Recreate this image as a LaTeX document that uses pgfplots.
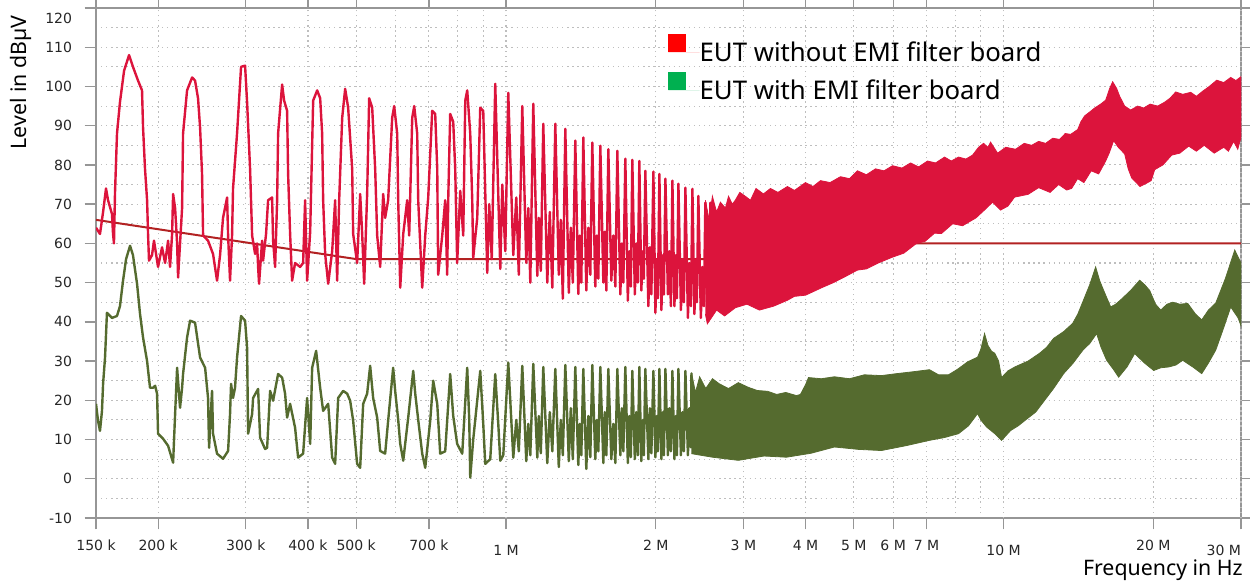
\documentclass[border=0pt]{standalone}
\usepackage{pgfplots}
\pgfplotsset{compat=1.18}
\usepackage{fontspec}
\setmainfont{Noto Sans}
\newfontfamily\tickfont{DejaVu Sans}
\definecolor{trace}{RGB}{220,20,60}
\definecolor{limitc}{RGB}{178,34,34}
\definecolor{filt}{RGB}{85,107,47}
\definecolor{legred}{RGB}{255,0,0}
\definecolor{leggreen}{RGB}{0,176,80}
\definecolor{framec}{RGB}{150,150,150}
\definecolor{gridc}{RGB}{190,190,190}
\begin{document}
\begin{tikzpicture}
\path[use as bounding box] (-72pt,-48.75pt) rectangle (865.5pt,388.5pt);
\begin{axis}[
  at={(0,0)}, anchor=south west,
  scale only axis, width=858.75pt, height=382.5pt,
  xmode=log, xmin=150, xmax=30000, ymin=-10, ymax=120,
  axis line style={framec, line width=1.1pt},
  tick style={framec, line width=1pt},
  tick align=outside, major tick length=8.5pt, minor tick length=0pt,
  xtick={150,200,300,400,500,700,2000,3000,4000,5000,6000,7000,20000},
  xticklabels={150 k,200 k,300 k,400 k,500 k,700 k,2 M,3 M,4 M,5 M,6 M,7 M,20 M},
  extra x ticks={1000,10000,30000},
  extra x tick labels={1 M,10 M,{\makebox[0pt][r]{30 M}}},
  extra x tick style={grid=major, tick label style={yshift=-4pt}},
  minor xtick={600,800,900,8000,9000},
  ytick={-10,0,...,120},
  yticklabels={-10,0,10,20,30,40,50,60,70,80,90,100,110,{\raisebox{-11.3pt}[0pt][0pt]{120}}},
  minor ytick={-5,5,...,115},
  grid=both,
  major grid style={gridc, dash pattern=on 1pt off 2.8pt, line width=0.8pt},
  minor grid style={gridc, dash pattern=on 1pt off 2.8pt, line width=0.8pt},
  tick label style={font=\tickfont\fontsize{10.5}{12}\selectfont, text=black!85},
  xticklabel style={yshift=-4.5pt},
  yticklabel style={xshift=-6pt},
  xlabel={Frequency in Hz},
  xlabel style={font=\fontsize{16}{19}\selectfont, inner sep=0pt, at={(axis description cs:1,0)}, anchor=north east, yshift=-31pt, xshift=1.5pt},
  ylabel={Level in dBµV},
  ylabel style={font=\fontsize{16}{19}\selectfont, inner sep=0pt, at={([xshift=-48pt,yshift=-5.25pt]axis description cs:0,1)}, anchor=south east},
  legend image code/.code={\fill[#1] (0pt,0pt) rectangle (13.5pt,14pt); \path (0pt,0pt) -- (23.5pt,0pt);},
  legend cell align=left,
  legend style={at={(axis description cs:0.4996,0.950)}, anchor=north west, draw=none, fill=none, inner sep=0pt, font=\fontsize{19.3}{22}\selectfont, row sep=6.25pt, nodes={inner sep=0pt}},
]
\addlegendimage{fill=legred, draw=none}
\addlegendentry{EUT without EMI filter board}
\addlegendimage{fill=leggreen, draw=none}
\addlegendentry{EUT with EMI filter board}

% limit line
\addplot[limitc, line width=1.5pt, forget plot] coordinates {(150,66) (500,56) (5000,56) (5000,60) (30000,60)};

% EUT without filter: resolved part
\addplot[trace, line width=1.8pt, line join=round, forget plot] coordinates {
(150,64) (152.8,62.4) (155,68) (157.1,74) (158.6,71) (161.5,67.5) (162.3,62.4) (163,60) (163.8,73) (165.3,88) (167.6,96) (170.8,104) (174.8,108) (178,105) (182.2,101.5) (185.6,99) (186.5,89.5) (188.2,79) (190,71) (190.9,62) (191.7,55.6) (194.4,57) (196.2,60.7) (199.9,54) (203.6,59) (206.5,55) (209.4,60.7) (211.3,54) (213.3,62.4) (214.3,72.6) (216.3,69) (218.3,60) (219.3,51.3) (221.3,60) (223.4,69) (224.4,88) (228.6,99) (234,102.3) (237.2,101.5) (240.5,97) (242.8,89.5) (245,77.7) (246.2,62) (251.9,60.7) (257.8,57.3) (262.6,50.5) (266.3,57) (270,66.5) (275.1,71.7) (276.4,62) (278.9,50.5) (281.5,62) (282.8,74) (288.1,88) (293.5,105) (299,105.3) (301.8,96) (306,79) (308.9,62) (313.2,57.3) (316.1,60) (317.6,54) (319,49.7) (323.5,60.7) (325,55.6) (329.5,62.4) (332.6,71) (338.8,71.7) (340.4,60.7) (343.6,54) (346.8,71) (348.4,88) (354.9,100.5) (358.2,96.4) (363.2,93.8) (364.9,77.7) (368.3,62.4) (371.7,50.5) (376.9,55) (385.8,54) (391.2,55) (394.8,71) (398.5,50.5) (404.1,63) (409.7,96.4) (417.4,99) (423.2,97) (427.1,88) (429.1,71) (433.1,57.3) (439.2,49.7) (447.4,58) (453.6,71) (457.8,50.5) (462.1,71) (468.6,92) (475.1,99.4) (481.7,94.6) (490.8,79) (493,62.4) (502.2,55) (509.3,72.6) (514,62.4) (518.8,49.7) (526,72.6) (530.9,97) (538.4,94.6) (545.9,79) (551,62) (558.7,54) (566.5,72.6) (571.7,66.5) (579.7,71) (590.6,92) (596.1,95) (604.5,88) (607.3,71) (613,48.7) (621.6,62.4) (633.1,71) (639,62) (648,92) (654,95) (663.1,88) (666.2,71) (678.7,48.7) (688.2,62) (697.8,71.7) (710.8,93.8) (720.7,93) (727.5,79) (730.8,52) (744.5,62) (754.9,71) (761.9,52) (765.5,71) (772.6,93) (783.4,91) (790.7,79) (798,55) (809.2,73.4) (820.5,62) (828.2,96.4) (835.8,99) (847.5,88) (855.4,71) (859.3,56.3) (875.4,66.5) (887.7,94.6) (900.1,93.8) (916.9,52.5) (925.4,70) (936.2,56) (951.5,100.7) (973.9,53.5) (983,75) (996.7,58) (1010.6,98.4) (1034.3,57) (1048.7,71.7) (1061,52) (1078.3,95) (1098.4,55) (1108.7,69) (1119,50) (1134.6,95.6) (1155.8,51.7) (1163.8,66.5) (1174.6,53) (1188.3,90.5) (1210.5,50) (1224.7,68) (1239,48.7) (1256.3,90.5) (1276.7,52) (1288.6,66) (1300.7,45.9) (1315.9,89.2) (1337.3,47.4) (1349.7,64) (1362.3,50) (1378.2,86.2) (1397.4,47.1) (1407.1,62) (1417,50) (1430.1,87) (1450.1,48) (1463.6,64) (1477.2,52) (1491,85.7) (1511.8,49) (1522.5,62) (1533.1,51) (1547.4,84.9) (1569.1,50) (1580.1,63) (1591,48) (1605.7,84) (1628.2,50.5) (1643.4,62) (1658.7,49) (1674.1,83.6) (1697.5,47) (1709.3,60) (1721.2,50) (1737.3,81.6) (1757.5,45.4) (1769.6,58) (1782.1,49) (1794.4,81.3) (1815.2,47) (1828,60) (1840.7,50) (1853.5,81) (1870.8,48) (1883.7,58) (1892.5,51) (1905.7,78.5) (1932.8,44) (1946.2,59) (1959.8,47) (1978.2,78.3) (1996.6,42.3) (2010.4,56) (2019.6,46) (2033.7,77.7) (2052.7,43) (2067.1,57) (2076.6,47) (2091.2,76.5) (2115.3,47) (2130.2,58) (2145,44) (2159.9,76) (2180,44) (2195.2,57) (2205.3,46) (2220.8,75.2) (2246.7,43) (2262.2,56) (2277.9,45) (2293.8,74.2) (2320.6,41) (2336.7,55) (2353,44) (2369.4,73.9) (2391.5,42) (2408.1,56) (2418.6,45) (2435.4,72.1) (2463.7,41) (2481,54) (2498.4,44) (2515.8,70.4) (2538.9,43) (2550.8,55) (2562.6,45) (2574.7,70.4) (2592.5,42)
};
% EUT without filter: dense band (upper then lower envelope)
\addplot[trace, fill=trace, line width=0.6pt, forget plot] coordinates {
(2516,71) (2560,66) (2599,72) (2650,68) (2697,70.5) (2760,69) (2800,72) (2850,70) (2890,71) (2950,73) (3027,72) (3100,71) (3180,74) (3291,72.6) (3400,74) (3520,73) (3678,74.5) (3800,73.5) (3998,75.5) (4140,74.5) (4286,76) (4480,75.5) (4701,77) (4900,76.5) (5086,78.5) (5300,77.5) (5529,79) (5750,78.5) (5981,79.8) (6250,79.2) (6501,80.5) (6750,79.5) (7033,81) (7300,80.5) (7609,82) (7850,81) (8119,82) (8400,81.5) (8662,82.5) (8906,84.5) (9115,85.5) (9300,84.5) (9415,85.8) (9726,83) (10100,84.5) (10572,84) (11000,85.5) (11384,85) (11760,86) (12146,85.5) (12550,86.8) (12960,86.5) (13300,88) (13637,87.8) (14086,89) (14300,91) (14550,92.5) (14900,93.5) (15239,94.5) (15670,95.5) (16037,96.5) (16336,99.5) (16565,101.2) (16874,99.5) (17111,97.5) (17511,95) (18000,94) (18600,95) (19120,94.5) (19700,95.5) (20400,95) (21075,96) (21600,97) (22176,98.6) (22900,98) (23770,98.5) (24400,97.5) (25130,98.8) (25900,100) (26812,101.6) (27700,101) (28608,102.3) (29300,101.5) (30000,102.5)
(30000,87) (29549,84) (29000,86) (28300,83.5) (27694,84.5) (26500,83) (25300,85) (24400,83.5) (23551,84.8) (22600,83) (21769,82.5) (20900,80) (20123,78.8) (19800,76) (19479,75.5) (18800,74.5) (18088,76.7) (17800,79) (17511,82.8) (17000,84.5) (16642,86.2) (16300,83) (16037,81) (15525,77.7) (15000,78.5) (14500,75.5) (14086,76.5) (13700,74) (13387,73.6) (12900,75) (12400,73) (11759,74.2) (11200,72.5) (10522,71.8) (10200,69.5) (9862,68.5) (9500,70.5) (9242,69) (8800,66.5) (8271,64.5) (7900,65) (7500,62.5) (7265,62.6) (6950,60.5) (6684,60) (6300,57.5) (5981,56.5) (5600,55) (5300,53.5) (5086,53.2) (4800,51.5) (4550,50) (4326,48.8) (4000,46.8) (3800,46.5) (3678,45.5) (3450,44) (3231,43) (3050,44.5) (2890,43.6) (2750,41.5) (2650,43) (2539,39.5) (2516,42)
};

% EUT with filter: resolved part
\addplot[filt, line width=1.8pt, line join=round, forget plot] coordinates {
(150,19.1) (151.4,14.8) (152.8,12.2) (154.2,17.3) (155,24.2) (156.4,30.9) (157.8,42.3) (161.5,41) (165.3,41.5) (167.6,44) (170,50.5) (172.4,56) (175.6,59.4) (178,57) (181.4,49.7) (183.9,42) (186.5,36) (190,30) (192.6,23.2) (195.3,23.2) (197.2,23.7) (199,21.7) (199.9,11.5) (204.6,10.2) (209.4,8.4) (214.3,4.1) (216.3,16.5) (218.3,28.3) (221.3,18.1) (223.4,23.2) (224.4,26.7) (228.6,36) (231.8,40.3) (237.2,39.8) (242.8,30.9) (248.5,28.3) (251.9,20.6) (253.1,7.9) (256.6,22.4) (257.8,11.5) (262.6,6.4) (270,5.1) (276.4,7.1) (278.9,16.5) (280.2,24.2) (282.8,20.6) (285.4,23.2) (288.1,30.9) (293.5,41.5) (299,40.3) (301.8,33.4) (303.2,11.5) (308.9,16.5) (310.3,20.6) (317.6,22.9) (320.5,10.5) (328,7.6) (331.1,7.9) (335.7,22.4) (340.4,19.9) (348.4,26.7) (354.9,25.8) (359.8,21.7) (363.2,15.6) (368.3,19.1) (376.9,13) (382.2,5.4) (391.2,6.4) (398.5,20.6) (404.1,8.9) (407.8,28.3) (415.4,32.6) (423.2,23.2) (429.1,17.3) (439.2,19.1) (447.4,5.4) (453.6,3.8) (460,20.6) (470.7,22.4) (479.5,21.7) (486.2,19.9) (493,14.8) (502.2,3.8) (509.3,2.8) (516.4,19.1) (526,21.7) (533.4,28.8) (540.8,20.6) (551,15.6) (558.7,7.1) (571.7,6.4) (579.7,14.8) (593.3,28.3) (598.8,22.4) (607.3,15) (613,8.9) (621.6,4.6) (636.1,15.6) (651,27.5) (657.1,21.7) (666.2,15) (678.7,6.4) (688.2,2.8) (704.3,14.8) (714.1,25) (727.5,19.1) (737.6,6.4) (754.9,7) (772.6,26.7) (783.4,16) (798,8.9) (816.7,6.4) (835.8,28.3) (843.6,15) (847.5,0.3) (859.3,10) (887.7,27.5) (900.1,14) (908.4,3.8) (929.7,5) (951.5,26.7) (964.9,14) (973.9,4.6) (987.5,6)
(1010.6,29.6) (1034.3,5.4) (1048.7,15) (1061,7) (1078.3,28.8) (1098.4,4.5) (1108.7,14) (1119,6) (1134.6,29.3) (1155.8,5.4) (1163.8,16) (1174.6,6.5) (1188.3,28.5) (1210.5,4) (1224.7,17) (1239,7) (1256.3,28) (1276.7,3) (1288.6,15) (1300.7,6) (1315.9,29) (1337.3,4.5) (1349.7,18) (1362.3,5) (1378.2,28.5) (1397.4,3.5) (1407.1,14) (1417,6) (1430.1,28) (1450.1,2.5) (1463.6,16) (1477.2,5.5) (1491,29) (1511.8,5) (1522.5,15) (1533.1,7) (1547.4,28.5) (1569.1,4) (1580.1,17) (1591,6) (1605.7,28) (1628.2,5) (1643.4,14) (1658.7,4) (1674.1,28) (1697.5,6) (1709.3,18) (1721.2,7) (1737.3,28.5) (1757.5,4) (1769.6,16) (1782.1,5.5) (1794.4,27.5) (1815.2,5) (1828,17) (1840.7,6) (1853.5,28.5) (1870.8,4.5) (1883.7,15) (1892.5,6) (1905.7,28) (1932.8,5) (1946.2,18) (1959.8,6.5) (1978.2,27.5) (1996.6,5.5) (2010.4,16) (2019.6,7) (2033.7,28) (2052.7,5) (2067.1,17) (2076.6,6) (2091.2,28) (2115.3,6) (2130.2,18) (2145,7) (2159.9,27.5) (2180,5) (2195.2,16) (2205.3,6) (2220.8,28) (2246.7,6) (2262.2,17) (2277.9,7) (2293.8,27.5) (2320.6,6) (2336.7,18) (2353,8) (2359,27)
};
% EUT with filter: dense band
\addplot[filt, fill=filt, line width=0.6pt, forget plot] coordinates {
(2359,27.1) (2403,22) (2450,26) (2520,23) (2600,25.5) (2684,24.2) (2800,23) (2930,24.5) (3070,23.3) (3200,22.5) (3353,22.3) (3500,21.5) (3650,22) (3835,21.2) (3907,21.5) (4000,24) (4054,25.8) (4300,25.5) (4572,26) (4900,25.5) (5250,26.5) (5684,26.3) (6100,26.8) (6600,27.3) (7098,27.8) (7400,26.5) (7751,26.5) (8100,28) (8464,29.8) (8865,31) (9000,33) (9157,37) (9300,34) (9459,32.5) (9600,32) (9771,30) (9908,25.8) (10200,27.5) (10572,28.6) (11200,30) (11813,32) (12200,33.5) (12606,35.8) (13200,37.5) (13764,39.6) (14100,42) (14415,45) (14900,49.5) (15310,54) (15600,50.5) (15890,48) (16413,43.8) (16800,44.5) (17189,45.6) (18000,48) (18769,50.6) (19200,49.5) (19661,48) (20200,44.5) (20689,43) (21300,44.5) (21870,45) (22600,44.5) (23443,44.7) (24300,42) (25013,40.5) (25800,43) (26690,44.8) (27900,51) (29141,58.3) (30000,55)
(30000,39) (29600,41) (28608,43.8) (27600,38) (26690,32.8) (25800,29.5) (25013,26.8) (24000,28.5) (22905,30.2) (22200,29) (21469,28.5) (20700,28.3) (20030,27.6) (19200,29.5) (18340,31.9) (17700,28.5) (17031,25.9) (16600,28) (16111,30.2) (15700,33.5) (15382,37) (14900,34.5) (14415,32.7) (13800,29.5) (13202,26.8) (12600,23) (12090,20) (11600,17) (11072,15) (10700,13.5) (10330,12.3) (9908,9.8) (9600,11.5) (9242,13.2) (9000,15) (8865,16.6) (8500,13.5) (8119,11.5) (7600,10.5) (7098,9.8) (6400,8.5) (5684,7.2) (5100,7.5) (4572,8.1) (4100,6.5) (3661,5.5) (3300,5.8) (2931,4.7) (2600,5.5) (2359,6.4)
};
\end{axis}
\end{tikzpicture}
\end{document}
